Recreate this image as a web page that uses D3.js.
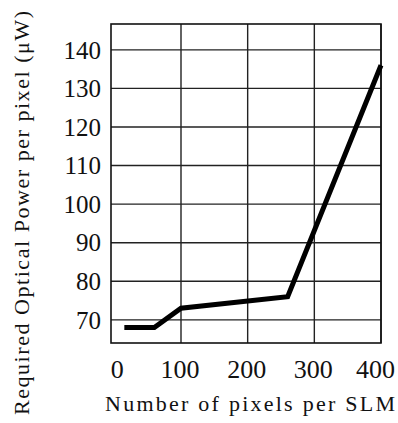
<!DOCTYPE html>
<html>
<head>
<meta charset="utf-8">
<script src="https://cdn.jsdelivr.net/npm/d3@7"></script>
<style>
  body { margin: 0; background: #fff; }
  text { font-family: "Liberation Serif", "DejaVu Serif", serif; fill: #111; }
</style>
</head>
<body>
<div id="chart"></div>
<script>
// data
const pixels = [15, 60, 100, 260, 400];
const power = [68, 68, 73, 76, 136];
const xTicks = [0, 100, 200, 300, 400];
const yTicks = [70, 80, 90, 100, 110, 120, 130, 140];

const W = 398, H = 423;
const MARGIN = {left: 111, right: 17, top: 24, bottom: 80};

const svg = d3.select("#chart")
    .append("svg")
    .attr("width", W)
    .attr("height", H);

const x = d3.scaleLinear().domain([-5, 400]).range([MARGIN.left, W - MARGIN.right]);
const y = d3.scaleLinear().domain([64, 146.7]).range([H - MARGIN.bottom, MARGIN.top]);

// grid
svg.append("g")
    .selectAll("line")
    .data(xTicks.slice(1))
    .join("line")
    .attr("x1", d => x(d)).attr("x2", d => x(d))
    .attr("y1", MARGIN.top).attr("y2", H - MARGIN.bottom)
    .style("stroke", "#222")
    .style("stroke-width", 1.4);

svg.append("g")
    .selectAll("line")
    .data(yTicks)
    .join("line")
    .attr("x1", MARGIN.left).attr("x2", W - MARGIN.right)
    .attr("y1", d => y(d)).attr("y2", d => y(d))
    .style("stroke", "#222")
    .style("stroke-width", 1.4);

// frame
svg.append("rect")
    .attr("x", MARGIN.left).attr("y", MARGIN.top)
    .attr("width", W - MARGIN.left - MARGIN.right)
    .attr("height", H - MARGIN.top - MARGIN.bottom)
    .style("fill", "none")
    .style("stroke", "#111")
    .style("stroke-width", 1.6);

// tick labels
svg.append("g")
    .selectAll("text")
    .data(yTicks)
    .join("text")
    .attr("x", MARGIN.left - 10)
    .attr("y", d => y(d) + 3)
    .attr("text-anchor", "end")
    .attr("dominant-baseline", "middle")
    .style("font-size", "25px")
    .text(d => d);

// last label sits left of its grid line so it stays in the frame
svg.append("g")
    .selectAll("text")
    .data(xTicks)
    .join("text")
    .attr("x", d => d === 400 ? W - 3 : x(d) + (d === 0 ? 3 : -1))
    .attr("y", 378)
    .attr("text-anchor", d => d === 400 ? "end" : "middle")
    .style("font-size", "26px")
    .text(d => d);

// axis titles
svg.append("text")
    .attr("x", 250)
    .attr("y", 411)
    .attr("text-anchor", "middle")
    .attr("textLength", 290)
    .style("font-size", "22px")
    .text("Number of pixels per SLM");

svg.append("text")
    .attr("transform", "translate(29,213) rotate(-90)")
    .attr("text-anchor", "middle")
    .attr("textLength", 404)
    .style("font-size", "22px")
    .text("Required Optical Power per pixel (\u03bcW)");

// curve
const line = d3.line()
    .x((d, i) => x(pixels[i]))
    .y(d => y(d));

svg.append("path")
    .datum(power)
    .attr("d", line)
    .style("fill", "none")
    .style("stroke", "#000")
    .style("stroke-width", 5);
</script>
</body>
</html>
